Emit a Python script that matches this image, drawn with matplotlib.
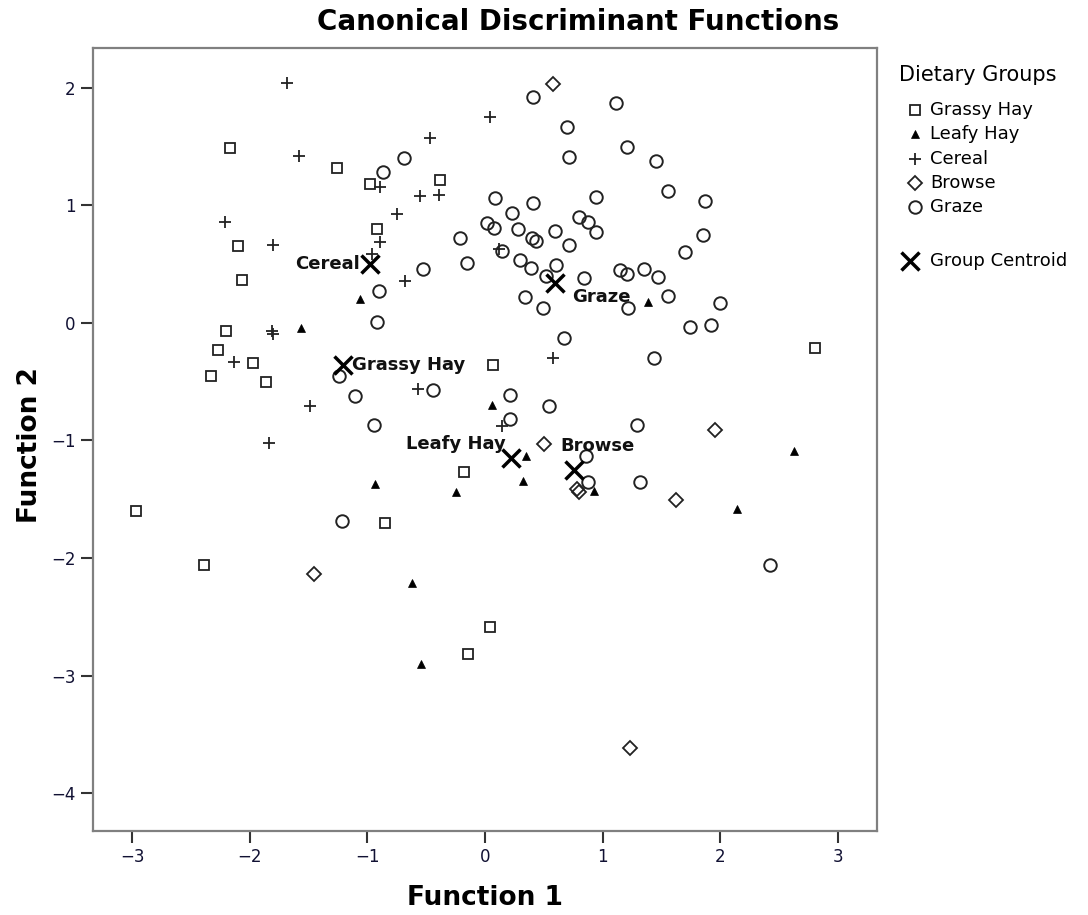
import matplotlib
matplotlib.use("Agg")
import matplotlib.pyplot as plt

# ── Data ────────────────────────────────────────────────────
grassy_x = [-2.17, -1.26, -0.98, -0.385, -2.10, -2.07, -0.92, -2.20, -2.27, -1.97,
            -2.33, -1.865, 0.07, 2.81, -2.97, -0.176, -0.85, -2.39, 0.04, -0.146]
grassy_y = [1.49, 1.32, 1.18, 1.22, 0.655, 0.37, 0.80, -0.068, -0.23, -0.34,
            -0.45, -0.50, -0.357, -0.21, -1.597, -1.265, -1.705, -2.06, -2.585, -2.817]

leafy_x = [-1.06, -1.565, 1.39, 0.062, 0.35, 0.32, -0.935, -0.247, 0.93, 2.63,
           2.14, -0.62, -0.54]
leafy_y = [0.20, -0.04, 0.18, -0.70, -1.13, -1.345, -1.37, -1.44, -1.43, -1.087,
           -1.58, -2.215, -2.905]

cereal_x = [-1.68, -1.58, 0.045, -0.47, -0.89, -0.39, -0.55, -0.75, -2.21, -1.805,
            -0.89, -0.96, 0.12, -0.68, -1.81, -1.80, -2.13, 0.58, -0.57, -1.49,
            0.147, -1.84]
cereal_y = [2.045, 1.42, 1.756, 1.57, 1.16, 1.09, 1.08, 0.93, 0.86, 0.66,
            0.69, 0.59, 0.63, 0.357, -0.068, -0.09, -0.33, -0.295, -0.56, -0.706,
            -0.88, -1.02]

browse_x = [0.58, 0.50, 0.785, 0.80, 1.955, 1.62, -1.45, 1.234]
browse_y = [2.03, -1.03, -1.413, -1.436, -0.91, -1.506, -2.14, -3.617]

graze_x = [0.41, 0.70, 0.71, -0.69, -0.87, 1.11, 1.21, 1.45, 1.56, 1.87,
           0.085, 0.41, 0.94, 0.23, 0.014, 0.077, 0.28, 0.595, 0.80, 0.88,
           0.94, 0.40, 0.43, 0.717, -0.21, 0.145, -0.156, 0.30, 0.39, 0.60,
           0.52, 0.84, -0.53, -0.90, 0.34, 0.49, 1.857, 1.70, 1.15, 1.21,
           1.35, 1.47, 1.56, 2.0, 1.22, 1.74, 1.92, 1.44, 1.29, 1.32,
           0.88, 0.856, -0.92, 0.675, -1.244, -1.105, -0.44, 0.21, 0.54, 0.21,
           -0.944, -1.22, 2.42]
graze_y = [1.92, 1.67, 1.415, 1.40, 1.285, 1.87, 1.495, 1.38, 1.126, 1.04,
           1.064, 1.02, 1.075, 0.94, 0.85, 0.81, 0.80, 0.78, 0.90, 0.857,
           0.77, 0.72, 0.70, 0.66, 0.72, 0.61, 0.51, 0.54, 0.47, 0.49,
           0.40, 0.38, 0.457, 0.275, 0.22, 0.125, 0.75, 0.60, 0.45, 0.42,
           0.457, 0.39, 0.23, 0.17, 0.13, -0.037, -0.02, -0.295, -0.87, -1.35,
           -1.356, -1.13, 0.01, -0.125, -0.45, -0.62, -0.57, -0.61, -0.706, -0.817,
           -0.868, -1.685, -2.06]

centroid_names = ["Grassy Hay", "Leafy Hay", "Cereal", "Browse", "Graze"]
centroid_x = [-1.205, 0.22, -0.98, 0.76, 0.595]
centroid_y = [-0.357, -1.15, 0.50, -1.25, 0.343]

xticks = [-3, -2, -1, 0, 1, 2, 3]
yticks = [-4, -3, -2, -1, 0, 1, 2]

group_names = ["Grassy Hay", "Leafy Hay", "Cereal", "Browse", "Graze"]

# label placement (offset in points, alignment) per centroid
label_style = {
    "Grassy Hay": ((6, 0), "left"),
    "Leafy Hay":  ((-4, 10), "right"),
    "Cereal":     ((-7, 0), "right"),
    "Browse":     ((-10, 17), "left"),
    "Graze":      ((12, -10), "left"),
}

INK = "#222222"
# marker style per group
styles = {
    "Grassy Hay": dict(marker="s", ms=7, mfc="none", mec=INK, mew=1.3),
    "Leafy Hay":  dict(marker="^", ms=6, mfc="black", mec="black", mew=0.5),
    "Cereal":     dict(marker="+", ms=8, mec=INK, mew=1.3),
    "Browse":     dict(marker="D", ms=7, mfc="none", mec=INK, mew=1.3),
    "Graze":      dict(marker="o", ms=9, mfc="none", mec=INK, mew=1.4),
}
centroid_style = dict(marker="x", ms=13, mec="black", mew=2.5)

# ── Figure ──────────────────────────────────────────────────
fig = plt.figure(figsize=(10.88, 9.15), dpi=100)
ax = fig.add_axes([93 / 1088, 84 / 915, 784 / 1088, 783 / 915])

series = {
    "Grassy Hay": (grassy_x, grassy_y),
    "Leafy Hay": (leafy_x, leafy_y),
    "Cereal": (cereal_x, cereal_y),
    "Browse": (browse_x, browse_y),
    "Graze": (graze_x, graze_y),
}
for name in group_names:
    xs, ys = series[name]
    ax.plot(xs, ys, linestyle="none", **styles[name])
ax.plot(centroid_x, centroid_y, linestyle="none", **centroid_style)

for name, cx, cy in zip(centroid_names, centroid_x, centroid_y):
    off, ha = label_style[name]
    ax.annotate(name, (cx, cy), xytext=off, textcoords="offset points",
                ha=ha, va="center", fontsize=13, fontweight="bold", color="#111111")

ax.set_xlim(-3.333, 3.333)
ax.set_ylim(-4.323, 2.34)
ax.set_xticks(xticks)
ax.set_yticks(yticks)
ax.tick_params(direction="out", length=8.5, width=1.5, color="#333333",
               labelsize=12, pad=4, labelcolor="#111133")
for sp in ax.spines.values():
    sp.set_color("#808080")
    sp.set_linewidth(1.6)

fig.text(578 / 1088, 1 - 22 / 915, "Canonical Discriminant Functions",
         ha="center", va="center", fontsize=20, fontweight="bold")
fig.text(485 / 1088, 1 - 898 / 915, "Function 1",
         ha="center", va="center", fontsize=19, fontweight="bold")
fig.text(30 / 1088, 1 - 445 / 915, "Function 2", rotation=90,
         ha="center", va="center", fontsize=19, fontweight="bold")

# ── Legend (drawn in a pixel-coordinate overlay) ────────────
lax = fig.add_axes([0, 0, 1, 1], facecolor="none")
lax.set_xlim(0, 1088)
lax.set_ylim(915, 0)
lax.axis("off")
lax.text(899, 75, "Dietary Groups", fontsize=15, ha="left", va="center")
for i, name in enumerate(group_names):
    y = 110 + i * 24.3
    st = dict(styles[name])
    lax.plot([915], [y], linestyle="none", **st)
    lax.text(930, y, name, fontsize=13, ha="left", va="center")
lax.plot([910], [261], linestyle="none", **centroid_style)
lax.text(930, 261, "Group Centroid", fontsize=13, ha="left", va="center")

plt.savefig("out.png", dpi=100)
plt.close()
